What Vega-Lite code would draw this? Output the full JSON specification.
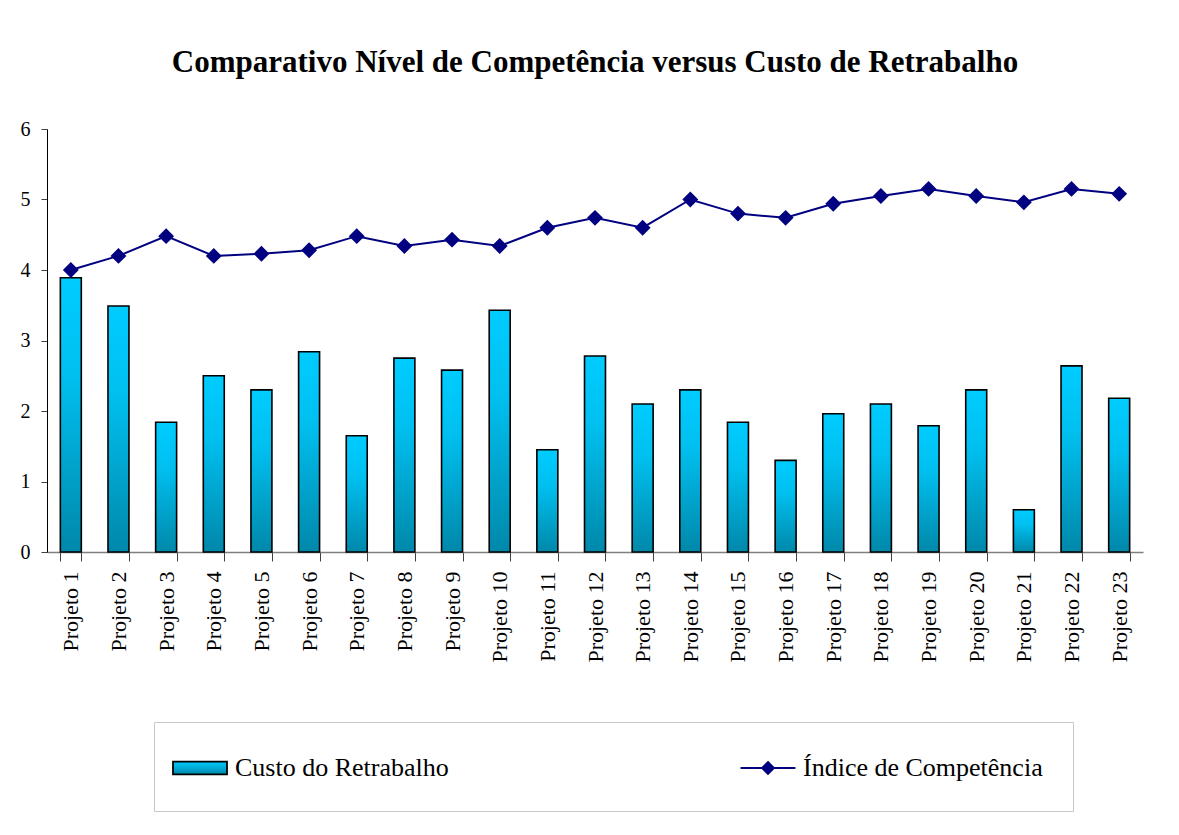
{
  "$schema": "https://vega.github.io/schema/vega-lite/v6.json",
  "width": 1096,
  "height": 423,
  "padding": {"left": 20, "top": 47, "right": 10, "bottom": 5},
  "background": "white",
  "title": {
    "text": "Comparativo Nível de Competência versus Custo de Retrabalho",
    "font": "Liberation Serif",
    "fontSize": 31,
    "fontWeight": "bold",
    "color": "black",
    "anchor": "middle",
    "offset": 40
  },
  "data": {
    "values": [
      {"projeto": "Projeto 1", "custo": 3.89, "indice": 4.0},
      {"projeto": "Projeto 2", "custo": 3.49, "indice": 4.2},
      {"projeto": "Projeto 3", "custo": 1.84, "indice": 4.48},
      {"projeto": "Projeto 4", "custo": 2.5, "indice": 4.2},
      {"projeto": "Projeto 5", "custo": 2.3, "indice": 4.23},
      {"projeto": "Projeto 6", "custo": 2.84, "indice": 4.28},
      {"projeto": "Projeto 7", "custo": 1.65, "indice": 4.48},
      {"projeto": "Projeto 8", "custo": 2.75, "indice": 4.34},
      {"projeto": "Projeto 9", "custo": 2.58, "indice": 4.43},
      {"projeto": "Projeto 10", "custo": 3.43, "indice": 4.34},
      {"projeto": "Projeto 11", "custo": 1.45, "indice": 4.6},
      {"projeto": "Projeto 12", "custo": 2.78, "indice": 4.74},
      {"projeto": "Projeto 13", "custo": 2.1, "indice": 4.6},
      {"projeto": "Projeto 14", "custo": 2.3, "indice": 5.0},
      {"projeto": "Projeto 15", "custo": 1.84, "indice": 4.8},
      {"projeto": "Projeto 16", "custo": 1.3, "indice": 4.74},
      {"projeto": "Projeto 17", "custo": 1.96, "indice": 4.94},
      {"projeto": "Projeto 18", "custo": 2.1, "indice": 5.05},
      {"projeto": "Projeto 19", "custo": 1.79, "indice": 5.15},
      {"projeto": "Projeto 20", "custo": 2.3, "indice": 5.05},
      {"projeto": "Projeto 21", "custo": 0.6, "indice": 4.96},
      {"projeto": "Projeto 22", "custo": 2.64, "indice": 5.15},
      {"projeto": "Projeto 23", "custo": 2.18, "indice": 5.08}
    ]
  },
  "encoding": {
    "x": {
      "field": "projeto",
      "type": "nominal",
      "sort": null,
      "title": null,
      "scale": {"paddingInner": 0.56, "paddingOuter": 0.28},
      "axis": {
        "labelAngle": -90,
        "labelAlign": "right",
        "labelBaseline": "middle",
        "labelFont": "Liberation Serif",
        "labelFontSize": 22,
        "labelColor": "black",
        "labelPadding": 10,
        "tickBand": "extent",
        "tickSize": 9,
        "tickColor": "#404040",
        "domainColor": "#808080",
        "domainWidth": 1.5,
        "grid": false
      }
    }
  },
  "layer": [
    {
      "mark": {
        "type": "bar",
        "strokeWidth": 1.6,
        "fill": {"gradient": "linear", "x1": 0, "y1": 0, "x2": 0, "y2": 1, "stops": [{"offset": 0, "color": "#00ccff"}, {"offset": 0.35, "color": "#00c0f0"}, {"offset": 1, "color": "#0088aa"}]}
      },
      "encoding": {
        "y": {
          "field": "custo",
          "type": "quantitative",
          "title": null,
          "scale": {"domain": [0, 6], "nice": false},
          "axis": {
            "values": [0, 1, 2, 3, 4, 5, 6],
            "format": "d",
            "labelFont": "Liberation Serif",
            "labelFontSize": 20,
            "labelColor": "black",
            "labelPadding": 11,
            "tickSize": 6,
            "tickColor": "#404040",
            "domainColor": "black",
            "grid": false
          }
        },
        "stroke": {"datum": "Custo do Retrabalho", "type": "nominal"}
      }
    },
    {
      "mark": {
        "type": "line",
        "strokeWidth": 2,
        "point": {"shape": "diamond", "size": 170, "filled": true, "fill": "#000080", "color": "#000080", "opacity": 1}
      },
      "encoding": {
        "y": {"field": "indice", "type": "quantitative"},
        "stroke": {
          "datum": "Índice de Competência",
          "type": "nominal",
          "scale": {
            "domain": ["Custo do Retrabalho", "Índice de Competência"],
            "range": ["black", "#000080"]
          },
          "legend": {
            "orient": "none",
            "legendX": 107,
            "legendY": 593,
            "direction": "horizontal",
            "title": null,
            "padding": 30,
            "strokeColor": "#c8c8c8",
            "columnPadding": 287,
            "labelFont": "Liberation Serif",
            "labelFontSize": 26,
            "labelColor": "black",
            "labelOffset": 19,
            "labelLimit": 500,
            "symbolSize": 900,
            "encode": {
              "symbols": {
                "update": {
                  "shape": [
                    {"test": "datum.value === 'Custo do Retrabalho'", "value": "M-1.8,-0.43H1.8V0.43H-1.8Z"},
                    {"value": "M-1.83,0H1.83M0,-0.4L0.4,0L0,0.4L-0.4,0Z"}
                  ],
                  "fill": [
                    {"test": "datum.value === 'Custo do Retrabalho'", "value": {"gradient": "linear", "x1": 0, "y1": 0, "x2": 0, "y2": 1, "stops": [{"offset": 0, "color": "#00ccff"}, {"offset": 1, "color": "#0088aa"}]}},
                    {"value": "#000080"}
                  ],
                  "strokeWidth": {"value": 1.8},
                  "opacity": {"value": 1}
                }
              }
            }
          }
        }
      }
    }
  ],
  "config": {
    "view": {"stroke": null},
    "axis": {"labelFont": "Liberation Serif"}
  }
}
